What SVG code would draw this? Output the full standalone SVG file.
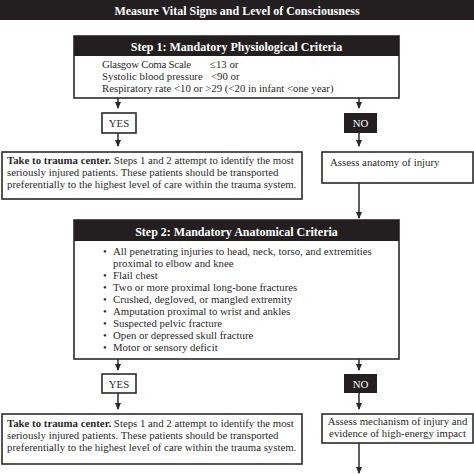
<svg xmlns="http://www.w3.org/2000/svg" width="474" height="474" viewBox="0 0 474 474">
<style>
text{font-family:"Liberation Serif","Times New Roman",serif;fill:#2a2a2a;font-size:10.8px}
.hd{font-weight:bold;fill:#fff;font-size:12px}
.b{font-weight:bold}
.box{fill:#fff;stroke:#2a2a2a;stroke-width:1.6}
.dark{fill:#231f20}
.wt{fill:#fff}
.ln{stroke:#2a2a2a;stroke-width:1.5;fill:none}
</style>
<defs>
<marker id="ah" markerWidth="7" markerHeight="6" refX="6" refY="3" orient="auto" markerUnits="userSpaceOnUse">
<path d="M0,0 L7,3 L0,6 Z" fill="#2a2a2a"/>
</marker>
</defs>
<rect x="0" y="0" width="474" height="20" class="dark"/>
<text x="237" y="14.5" text-anchor="middle" class="hd" font-size="11.4">Measure Vital Signs and Level of Consciousness</text>

<g id="step1">
<rect x="74" y="36" width="325" height="62" class="box"/>
<rect x="74" y="36" width="325" height="20" class="dark"/>
<text x="236.5" y="51" text-anchor="middle" class="hd">Step 1: Mandatory Physiological Criteria</text>
<text x="102" y="68" textLength="89">Glasgow Coma Scale</text>
<text x="210" y="68">≤13 or</text>
<text x="102" y="80">Systolic blood pressure</text>
<text x="211" y="80">&lt;90 or</text>
<text x="102" y="92">Respiratory rate &lt;10 or &gt;29 (&lt;20 in infant &lt;one year)</text>
</g>

<g id="yes1">
<rect x="102" y="113" width="34" height="20" class="box"/>
<text x="119" y="127" text-anchor="middle">YES</text>
</g>
<g id="no1">
<rect x="344" y="113" width="33" height="20" class="dark"/>
<text x="360.5" y="127" text-anchor="middle" class="wt">NO</text>
</g>
<g id="trauma1">
<rect x="2" y="152" width="300" height="47" class="box"/>
<text x="7" y="164"><tspan class="b">Take to trauma center.</tspan>  Steps 1 and 2 attempt to identify the most</text>
<text x="7" y="176">seriously injured patients.  These patients should be transported</text>
<text x="7" y="188">preferentially to the highest level of care within the trauma system.</text>
</g>
<g id="assess1">
<rect x="322" y="152" width="151" height="31" class="box"/>
<text x="330" y="166">Assess anatomy of injury</text>
</g>

<g id="step2">
<rect x="74" y="220" width="325" height="139" class="box"/>
<rect x="74" y="220" width="325" height="21" class="dark"/>
<text x="236.5" y="235.5" text-anchor="middle" class="hd">Step 2: Mandatory Anatomical Criteria</text>
<g>
<text x="103" y="255">•</text><text x="113" y="255">All penetrating injuries to head, neck, torso, and extremities</text>
<text x="113" y="267">proximal to elbow and knee</text>
<text x="103" y="279">•</text><text x="113" y="279">Flail chest</text>
<text x="103" y="291">•</text><text x="113" y="291">Two or more proximal long-bone fractures</text>
<text x="103" y="303">•</text><text x="113" y="303">Crushed, degloved, or mangled extremity</text>
<text x="103" y="315">•</text><text x="113" y="315">Amputation proximal to wrist and ankles</text>
<text x="103" y="327">•</text><text x="113" y="327">Suspected pelvic fracture</text>
<text x="103" y="339">•</text><text x="113" y="339">Open or depressed skull fracture</text>
<text x="103" y="351">•</text><text x="113" y="351">Motor or sensory deficit</text>
</g>
</g>

<g id="yes2">
<rect x="102" y="374" width="34" height="19" class="box"/>
<text x="119" y="387.5" text-anchor="middle">YES</text>
</g>
<g id="no2">
<rect x="344" y="374" width="33" height="19" class="dark"/>
<text x="360.5" y="387.5" text-anchor="middle" class="wt">NO</text>
</g>
<g id="trauma2">
<rect x="2" y="414" width="300" height="50" class="box"/>
<text x="7" y="427"><tspan class="b">Take to trauma center.</tspan>  Steps 1 and 2 attempt to identify the most</text>
<text x="7" y="439">seriously injured patients.  These patients should be transported</text>
<text x="7" y="451">preferentially to the highest level of care within the trauma system.</text>
</g>
<g id="assess2">
<rect x="322" y="414" width="151" height="29" class="box"/>
<text x="397.5" y="425" text-anchor="middle">Assess mechanism of injury and</text>
<text x="397.5" y="437" text-anchor="middle">evidence of high-energy impact</text>
</g>

<g id="connectors">
<line x1="118" y1="98" x2="118" y2="108" class="ln" marker-end="url(#ah)"/>
<line x1="359" y1="98" x2="359" y2="108" class="ln" marker-end="url(#ah)"/>
<line x1="118" y1="133" x2="118" y2="146" class="ln" marker-end="url(#ah)"/>
<line x1="359" y1="133" x2="359" y2="146" class="ln" marker-end="url(#ah)"/>
<line x1="359" y1="183" x2="359" y2="218" class="ln" marker-end="url(#ah)"/>
<line x1="118" y1="359" x2="118" y2="370" class="ln" marker-end="url(#ah)"/>
<line x1="359" y1="359" x2="359" y2="370" class="ln" marker-end="url(#ah)"/>
<line x1="118" y1="393" x2="118" y2="409" class="ln" marker-end="url(#ah)"/>
<line x1="359" y1="393" x2="359" y2="409" class="ln" marker-end="url(#ah)"/>
<line x1="359" y1="443" x2="359" y2="473" class="ln" marker-end="url(#ah)"/>
</g>
</svg>
